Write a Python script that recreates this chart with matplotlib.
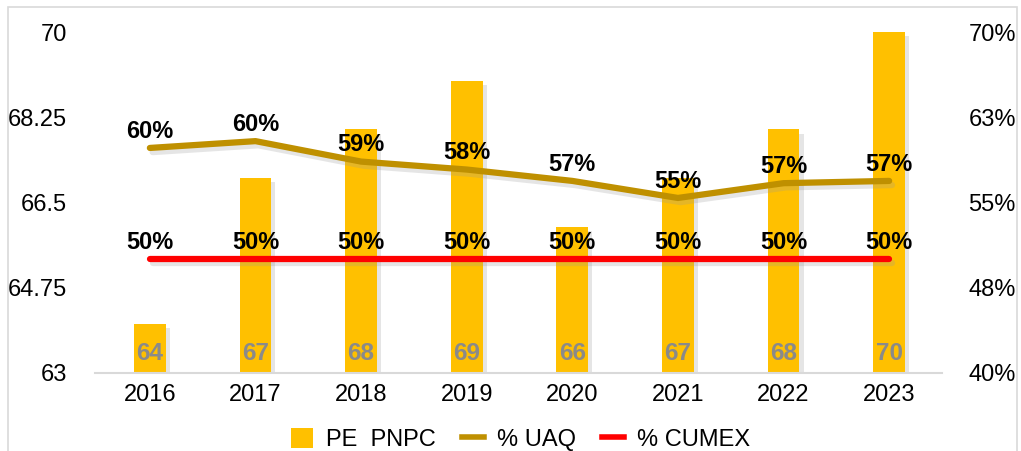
import matplotlib
matplotlib.use('Agg')
import matplotlib.pyplot as plt
import matplotlib.patheffects as pe
from matplotlib.patches import Rectangle, Patch
from matplotlib.lines import Line2D

plt.rcParams['font.family'] = ['Liberation Sans', 'DejaVu Sans']

years = ['2016', '2017', '2018', '2019', '2020', '2021', '2022', '2023']
pe_pnpc = [64, 67, 68, 69, 66, 67, 68, 70]
uaq = [59.8, 60.4, 58.6, 57.9, 56.9, 55.4, 56.7, 56.9]
cumex = [50, 50, 50, 50, 50, 50, 50, 50]
left_ticks = [63, 64.75, 66.5, 68.25, 70]
left_labels = ['63', '64.75', '66.5', '68.25', '70']
right_ticks = [40, 47.5, 55, 62.5, 70]
right_labels = ['40%', '48%', '55%', '63%', '70%']

bar_color = '#FFC000'
uaq_color = '#BF9000'
cumex_color = '#FF0000'

fig = plt.figure(figsize=(10.21, 4.51), dpi=100)
ax1 = fig.add_axes([0.093, 0.173, 0.8296, 0.756])
ax2 = ax1.twinx()

bar_shadow = [pe.SimplePatchShadow(offset=(3, -3), shadow_rgbFace='#999999', alpha=0.25), pe.Normal()]
line_shadow = [pe.SimpleLineShadow(offset=(2, -3), shadow_color='#999999', alpha=0.25), pe.Normal()]

X = list(range(len(years)))
bars = ax1.bar(X, [v - 63 for v in pe_pnpc], bottom=63, width=0.30, color=bar_color, zorder=2)
for b in bars:
    b.set_path_effects(bar_shadow)
for i, v in enumerate(pe_pnpc):
    ax1.annotate('%d' % v, xy=(i, 63), xytext=(0, 14), textcoords='offset points',
                 ha='center', va='center', fontsize=17.5, fontweight='bold', color='#8A8A8A', zorder=3)

ax2.plot(X, uaq, color=uaq_color, linewidth=4.5, solid_capstyle='round', path_effects=line_shadow)
ax2.plot(X, cumex, color=cumex_color, linewidth=4.5, solid_capstyle='round', path_effects=line_shadow)
for i in X:
    ax2.annotate('%.0f%%' % uaq[i], xy=(i, uaq[i]), xytext=(0, 12), textcoords='offset points',
                 ha='center', va='center', fontsize=17, fontweight='bold', color='black')
    ax2.annotate('%.0f%%' % cumex[i], xy=(i, cumex[i]), xytext=(0, 12), textcoords='offset points',
                 ha='center', va='center', fontsize=17, fontweight='bold', color='black')

ax1.set_xlim(-0.52, 7.5)
ax1.set_ylim(63, 70)
ax2.set_ylim(40, 70)
ax1.set_yticks(left_ticks)
ax1.set_yticklabels(left_labels)
ax2.set_yticks(right_ticks)
ax2.set_yticklabels(right_labels)
ax1.set_xticks(X)
ax1.set_xticklabels(years)

for ax in (ax1, ax2):
    for s in ('top', 'left', 'right', 'bottom'):
        ax.spines[s].set_visible(False)
ax1.spines['bottom'].set_visible(True)
ax1.spines['bottom'].set_color('#D9D9D9')
ax1.spines['bottom'].set_linewidth(1.5)
ax1.tick_params(axis='x', length=0, pad=8, labelsize=17)
ax1.tick_params(axis='y', length=0, pad=20, labelsize=17)
ax2.tick_params(axis='y', length=0, pad=19, labelsize=17)

handles = [Patch(facecolor=bar_color, edgecolor='none'),
           Line2D([0], [0], color=uaq_color, linewidth=4),
           Line2D([0], [0], color=cumex_color, linewidth=4)]
fig.legend(handles, ['PE  PNPC', '% UAQ', '% CUMEX'], loc='center', ncol=3,
           bbox_to_anchor=(0.51, 0.025), frameon=False, fontsize=17,
           handlelength=0.93, handleheight=0.93, columnspacing=1.1, handletextpad=0.55)

fig.patches.append(Rectangle((8 / 1021, -0.1), 1009 / 1021, 1.1 - 7 / 451, transform=fig.transFigure,
                             fill=False, edgecolor='#D9D9D9', linewidth=1.2))

fig.savefig('out.png', dpi=100)
